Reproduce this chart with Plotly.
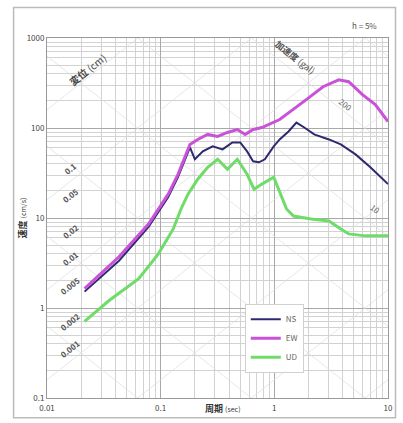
import math
import plotly.graph_objects as go

# Response spectra (pseudo-velocity vs. period), three components
period_ns = [0.0214, 0.043, 0.0782, 0.1166, 0.142, 0.164, 0.181, 0.200, 0.235, 0.287, 0.350,
             0.427, 0.501, 0.576, 0.650, 0.732, 0.825, 0.988, 1.114, 1.333, 1.564, 1.835,
             2.241, 3.023, 3.842, 5.184, 6.994, 10.0]
vel_ns = [1.52, 3.35, 7.95, 17.1, 28.4, 44.9, 60.9, 44.9, 55.0, 62.5, 57.9,
          69.2, 69.2, 55.0, 42.6, 41.6, 44.9, 62.5, 74.6, 91.5, 115.0, 101.3,
          84.8, 74.6, 65.7, 50.9, 36.6, 23.8]

period_ew = [0.0214, 0.043, 0.0782, 0.1166, 0.142, 0.164, 0.181, 0.212, 0.259, 0.317, 0.387,
             0.472, 0.554, 0.650, 0.777, 1.114, 1.564, 1.910, 2.682, 3.691, 4.508, 5.963,
             7.730, 10.0]
vel_ew = [1.64, 3.71, 8.58, 18.4, 30.6, 47.2, 65.7, 74.6, 84.8, 80.5, 89.2,
          96.2, 84.8, 96.2, 101.3, 124.1, 168.5, 206.5, 287.4, 343.5, 326.5, 234.6,
          181.8, 117.9]

period_ud = [0.0214, 0.0352, 0.0641, 0.0955, 0.129, 0.151, 0.174, 0.212, 0.259, 0.317, 0.387,
             0.472, 0.576, 0.663, 0.777, 0.988, 1.281, 1.473, 2.111, 3.023, 3.842, 4.508,
             6.331, 10.0]
vel_ud = [0.709, 1.21, 2.12, 4.00, 7.56, 12.6, 18.4, 27.0, 36.6, 44.9, 34.8,
          44.9, 30.6, 20.9, 23.8, 28.4, 12.6, 10.5, 9.75, 9.27, 7.56, 6.66,
          6.33, 6.33]

series_names = ["NS", "EW", "UD"]
series_colors = ["#2e2a6e", "#c952d8", "#6fdc6a"]
series_widths = [2, 3, 3]

# Tripartite guide lines: displacement (cm) and acceleration (gal)
disp_lines = [1e-4, 1e-3, 1e-2, 1e-1, 1, 10, 100, 1000]
accel_lines = [0.1, 1, 10, 100, 1000, 1e4, 1e5, 1e6]
disp_labels = [0.1, 0.05, 0.02, 0.01, 0.005, 0.002, 0.001]
accel_labels = [200, 10]

x_ticks = [0.01, 0.1, 1, 10]
x_tick_text = ["0.01", "0.1", "1", "10"]
y_ticks = [0.1, 1, 10, 100, 1000]
y_tick_text = ["0.1", "1", "10", "100", "1000"]

T_MIN, T_MAX = 0.01, 10.0
TWO_PI = 2 * math.pi

fig = go.Figure()

gx, gy = [], []
for d in disp_lines:
    gx += [T_MIN, T_MAX, None]
    gy += [TWO_PI * d / T_MIN, TWO_PI * d / T_MAX, None]
for a in accel_lines:
    gx += [T_MIN, T_MAX, None]
    gy += [a * T_MIN / TWO_PI, a * T_MAX / TWO_PI, None]
fig.add_trace(go.Scatter(x=gx, y=gy, mode="lines", line=dict(color="#dddddd", width=0.7),
                         hoverinfo="skip", showlegend=False))

for name, px, vy, col, w in zip(series_names, [period_ns, period_ew, period_ud],
                                [vel_ns, vel_ew, vel_ud], series_colors, series_widths):
    fig.add_trace(go.Scatter(x=px, y=vy, mode="lines", name=name,
                             line=dict(color=col, width=w)))

annotations = []
label_T = 0.016
for d in disp_labels:
    v = TWO_PI * d / label_T
    annotations.append(dict(x=math.log10(label_T), y=math.log10(v), xref="x", yref="y",
                            xanchor="center", yanchor="middle", yshift=-4,
                            text=f"<b>{d:g}</b>", showarrow=False, textangle=-38,
                            font=dict(size=8, color="#555")))
for a, t, ys in zip(accel_labels, [4.25, 7.7], [12, 2]):
    v = a * t / TWO_PI
    annotations.append(dict(x=math.log10(t), y=math.log10(v), xref="x", yref="y",
                            xanchor="center", yanchor="middle",
                            yshift=ys, text=f"{a:g}", showarrow=False, textangle=38,
                            font=dict(size=8, color="#666")))

annotations += [
    dict(x=0.118, y=0.912, xref="paper", yref="paper", xanchor="center", yanchor="middle",
         text="<b>変位</b> (cm)", showarrow=False, textangle=-38,
         font=dict(size=10, color="#444")),
    dict(x=0.728, y=0.945, xref="paper", yref="paper", xanchor="center", yanchor="middle",
         text="<b>加速度</b> (gal)", showarrow=False, textangle=38,
         font=dict(size=9, color="#555")),
    dict(x=0.975, y=1.035, xref="paper", yref="paper", xanchor="right", yanchor="middle",
         text="h = 5%", showarrow=False, font=dict(size=8, color="#555")),
    dict(x=-0.072, y=0.5, xref="paper", yref="paper", xanchor="center", yanchor="middle",
         text="<b>速度</b> <span style='font-size:7px'>(cm/s)</span>",
         showarrow=False, textangle=-90, font=dict(size=9, color="#333")),
    dict(x=0.515, y=-0.03, xref="paper", yref="paper", xanchor="center", yanchor="middle",
         text="<b>周期</b> <span style='font-size:7px'>(sec)</span>",
         showarrow=False, font=dict(size=9, color="#333")),
]

axis_common = dict(showline=True, linecolor="#999", linewidth=1, mirror=True,
                   gridcolor="#a8a8a8", gridwidth=0.8, zeroline=False, ticks="",
                   tickfont=dict(size=8, color="#444"),
                   minor=dict(showgrid=True, gridcolor="#d2d2d2", gridwidth=0.6, dtick="D1"))

fig.update_layout(
    width=403, height=423,
    margin=dict(l=47, r=10, t=38, b=23),
    paper_bgcolor="white", plot_bgcolor="white",
    font=dict(family="Noto Sans CJK JP, Noto Sans, sans-serif"),
    xaxis=dict(type="log", range=[-2, 1], tickvals=x_ticks, ticktext=x_tick_text,
               ticklabelstandoff=2, **axis_common),
    yaxis=dict(type="log", range=[-1, 3], tickvals=y_ticks, ticktext=y_tick_text,
               **axis_common),
    legend=dict(x=0.58, y=0.262, xanchor="left", yanchor="top", bgcolor="white",
                bordercolor="#d0d0d0", borderwidth=1, font=dict(size=8, color="#666"),
                itemwidth=30),
    annotations=annotations,
    shapes=[dict(type="rect", xref="paper", yref="paper", x0=-0.098, x1=1.022,
                 y0=-0.055, y1=1.085, line=dict(color="#bbbbbb", width=1.5))],
)

fig.write_html("out.html")
